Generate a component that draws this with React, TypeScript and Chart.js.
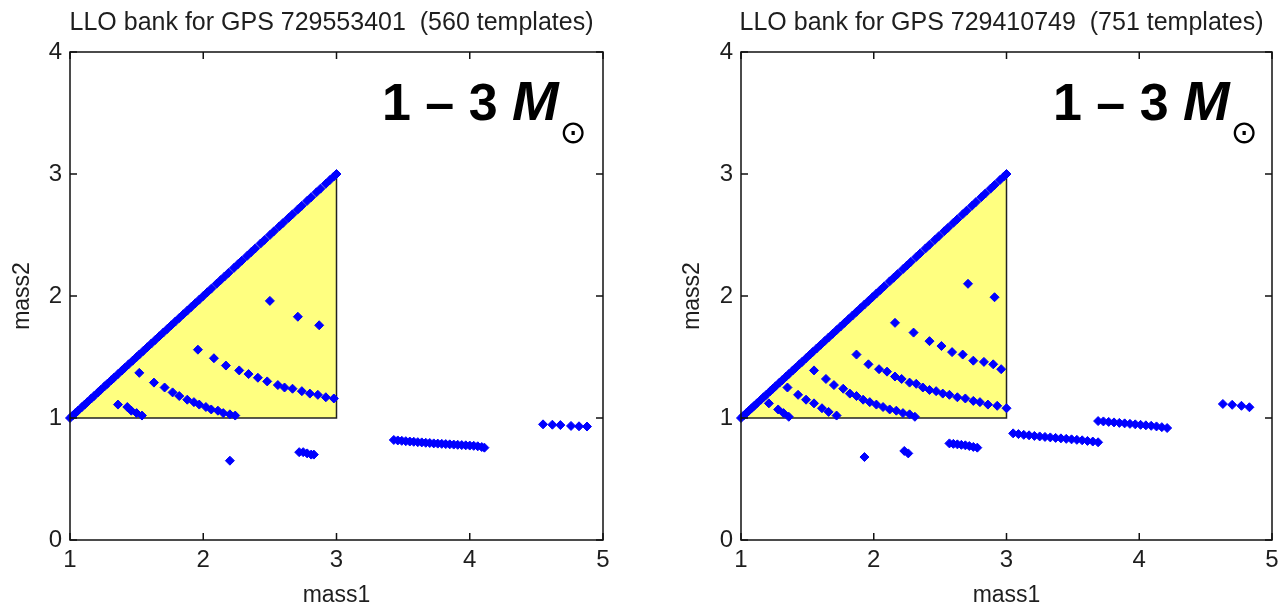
import React, { useEffect, useRef } from "react";
import { Chart, registerables } from "chart.js";

Chart.register(...registerables);

// ---------- data ----------
const xTickValues = [1, 2, 3, 4, 5];
const yTickValues = [0, 1, 2, 3, 4];
const triangleMass1 = [1, 3, 3];
const triangleMass2 = [1, 3, 1];

const leftTitle = "LLO bank for GPS 729553401  (560 templates)";
const rightTitle = "LLO bank for GPS 729410749  (751 templates)";

// equal-mass templates (mass1 = mass2)
const leftDiagonal = [
  1.0, 1.02, 1.04, 1.06, 1.09, 1.11, 1.13, 1.16, 1.18, 1.21, 1.23, 1.26, 1.28, 1.31, 1.33, 1.36, 1.39,
  1.41, 1.44, 1.47, 1.5, 1.52, 1.55, 1.58, 1.61, 1.64, 1.67, 1.7, 1.73, 1.76, 1.79, 1.82, 1.85, 1.88,
  1.91, 1.94, 1.97, 2.0, 2.03, 2.06, 2.1, 2.13, 2.16, 2.19, 2.23, 2.26, 2.29, 2.33, 2.36, 2.39, 2.43,
  2.46, 2.5, 2.53, 2.57, 2.6, 2.64, 2.67, 2.71, 2.74, 2.78, 2.81, 2.85, 2.88, 2.92, 2.95, 2.98, 3.0,
];
const rightDiagonal = [
  1.0, 1.02, 1.04, 1.06, 1.08, 1.1, 1.12, 1.15, 1.17, 1.19, 1.22, 1.24, 1.26, 1.29, 1.31, 1.34, 1.36,
  1.39, 1.41, 1.44, 1.46, 1.49, 1.52, 1.54, 1.57, 1.6, 1.63, 1.66, 1.69, 1.72, 1.75, 1.78, 1.81, 1.84,
  1.87, 1.9, 1.93, 1.96, 1.99, 2.02, 2.05, 2.08, 2.12, 2.15, 2.18, 2.22, 2.25, 2.28, 2.32, 2.35, 2.39,
  2.42, 2.46, 2.49, 2.53, 2.56, 2.6, 2.63, 2.67, 2.7, 2.74, 2.77, 2.81, 2.84, 2.88, 2.91, 2.95, 2.98, 3.0,
];

// unequal-mass templates
const leftMass1 = [
  2.5, 2.71, 2.87,
  1.96, 2.08, 2.17, 2.27, 2.34, 2.41, 2.48, 2.56, 2.61, 2.67, 2.74, 2.8, 2.86, 2.92, 2.98,
  1.52, 1.63, 1.71, 1.77, 1.82, 1.88, 1.93, 1.97, 2.02, 2.06, 2.11, 2.15, 2.2, 2.24,
  1.36, 1.43, 1.46, 1.5, 1.54,
  2.2,
  2.72, 2.75, 2.78, 2.81, 2.83,
  3.43, 3.46, 3.49, 3.52, 3.55, 3.58, 3.61, 3.64, 3.67, 3.7, 3.73, 3.76, 3.79, 3.82, 3.85, 3.88, 3.91,
  3.94, 3.97, 4.0, 4.03, 4.06, 4.09, 4.11,
  4.55, 4.62, 4.68, 4.76, 4.82, 4.88,
];
const leftMass2 = [
  1.96, 1.83, 1.76,
  1.56, 1.49, 1.43, 1.39, 1.36, 1.33, 1.3, 1.27, 1.25, 1.24, 1.22, 1.2, 1.19, 1.17, 1.16,
  1.37, 1.29, 1.25, 1.21, 1.18, 1.15, 1.13, 1.11, 1.09, 1.07, 1.06, 1.04, 1.03, 1.02,
  1.11, 1.09, 1.06, 1.04, 1.02,
  0.65,
  0.72, 0.72, 0.71, 0.7, 0.7,
  0.82, 0.816, 0.813, 0.81, 0.807, 0.805, 0.802, 0.8, 0.797, 0.795, 0.792, 0.79, 0.788, 0.786, 0.784,
  0.782, 0.78, 0.778, 0.776, 0.774, 0.772, 0.768, 0.762, 0.757,
  0.948, 0.945, 0.942, 0.935, 0.932, 0.93,
];

const rightMass1 = [
  2.71, 2.91,
  2.16, 2.3, 2.42, 2.51, 2.59, 2.67, 2.75, 2.83, 2.9, 2.96,
  1.87, 1.96, 2.04, 2.1, 2.16, 2.21, 2.27, 2.32, 2.37, 2.42, 2.47, 2.52, 2.57, 2.63, 2.69, 2.75, 2.8,
  2.86, 2.93, 3.0,
  1.55, 1.64, 1.7, 1.77, 1.82, 1.87, 1.92, 1.97, 2.02, 2.07, 2.12, 2.17, 2.22, 2.27, 2.31,
  1.35, 1.43, 1.49, 1.55, 1.61, 1.66, 1.72,
  1.21, 1.28, 1.32, 1.36,
  1.93, 2.23, 2.26,
  2.57, 2.6, 2.63, 2.66, 2.69, 2.72, 2.75, 2.78,
  3.05, 3.09, 3.13, 3.17, 3.21, 3.25, 3.29, 3.33, 3.37, 3.41, 3.45, 3.49, 3.53, 3.57, 3.61, 3.65, 3.69,
  3.69, 3.73, 3.77, 3.81, 3.85, 3.89, 3.93, 3.97, 4.01, 4.05, 4.09, 4.13, 4.17, 4.21,
  4.63, 4.7, 4.77, 4.83,
];
const rightMass2 = [
  2.1, 1.99,
  1.78, 1.7, 1.63, 1.59, 1.54, 1.52, 1.47, 1.46, 1.44, 1.4,
  1.52, 1.44, 1.4, 1.38, 1.34, 1.32, 1.29, 1.28, 1.25, 1.23, 1.22, 1.2, 1.19, 1.17, 1.16, 1.14, 1.13,
  1.11, 1.1, 1.08,
  1.39, 1.32, 1.27, 1.24, 1.2, 1.18, 1.15, 1.13, 1.11, 1.09, 1.07, 1.06, 1.04, 1.03, 1.01,
  1.25, 1.19, 1.15, 1.12, 1.08, 1.05, 1.02,
  1.12, 1.07, 1.04, 1.01,
  0.68, 0.73, 0.71,
  0.792, 0.788, 0.784, 0.78, 0.776, 0.77, 0.763, 0.757,
  0.874, 0.868, 0.862, 0.858, 0.853, 0.849, 0.845, 0.841, 0.837, 0.833, 0.829, 0.825, 0.821, 0.817,
  0.812, 0.807, 0.801,
  0.975, 0.972, 0.968, 0.964, 0.96, 0.956, 0.952, 0.948, 0.944, 0.94, 0.936, 0.931, 0.925, 0.918,
  1.115, 1.108, 1.1, 1.088,
];

// ---------- styling ----------
const FONT = '"Liberation Sans", Arial, Helvetica, sans-serif';
const TEXT_COLOR = "#1e1e1e";
const YELLOW = "#ffff80";
const BLUE = "#0000ff";

type PanelProps = {
  title: string;
  diagonal: number[];
  mass1: number[];
  mass2: number[];
  left: number;
  width: number;
  yAxisWidth: number;
  padRight: number;
};

function Panel({ title, diagonal, mass1, mass2, left, width, yAxisWidth, padRight }: PanelProps) {
  const ref = useRef<HTMLCanvasElement | null>(null);

  useEffect(() => {
    if (!ref.current) return;
    const points = [
      ...diagonal.map((m) => ({ x: m, y: m })),
      ...mass1.map((m, i) => ({ x: m, y: mass2[i] })),
    ];

    const decor = {
      id: "matlabDecor",
      afterDraw(chart: any) {
        const { ctx, chartArea } = chart;
        const { left: l, right: r, top: t, bottom: b } = chartArea;
        const xs = chart.scales.x;
        const ys = chart.scales.y;
        ctx.save();
        ctx.strokeStyle = "#111";
        ctx.lineWidth = 1.5;
        ctx.strokeRect(l, t, r - l, b - t);
        const tl = 7;
        ctx.beginPath();
        xTickValues.forEach((v) => {
          const px = xs.getPixelForValue(v);
          ctx.moveTo(px, b);
          ctx.lineTo(px, b - tl);
          ctx.moveTo(px, t);
          ctx.lineTo(px, t + tl);
        });
        yTickValues.forEach((v) => {
          const py = ys.getPixelForValue(v);
          ctx.moveTo(l, py);
          ctx.lineTo(l + tl, py);
          ctx.moveTo(r, py);
          ctx.lineTo(r - tl, py);
        });
        ctx.stroke();

        // title
        ctx.fillStyle = TEXT_COLOR;
        ctx.font = `25px ${FONT}`;
        ctx.textAlign = "center";
        ctx.textBaseline = "alphabetic";
        ctx.fillText(title, (l + r) / 2 - 5, 30);

        // big range label
        ctx.fillStyle = "#000";
        ctx.textAlign = "left";
        let bx = l + 312;
        const by = t + 68;
        ctx.font = `bold 52px ${FONT}`;
        const part1 = "1 \u2013 3 ";
        ctx.fillText(part1, bx, by);
        bx += ctx.measureText(part1).width;
        ctx.font = `italic bold 56px ${FONT}`;
        ctx.fillText("M", bx, by);
        bx += ctx.measureText("M").width + 1;
        ctx.font = `32px "DejaVu Sans", sans-serif`;
        ctx.fillText("\u2299", bx, by + 23);
        ctx.restore();
      },
    };

    const chart = new Chart(ref.current, {
      type: "scatter",
      data: {
        datasets: [
          {
            type: "line",
            data: [
              { x: triangleMass1[0], y: triangleMass2[0] },
              { x: triangleMass1[1], y: triangleMass2[1] },
            ],
            fill: { value: 1 },
            backgroundColor: YELLOW,
            borderColor: "rgba(0,0,0,0)",
            borderWidth: 0,
            pointRadius: 0,
            order: 3,
          } as any,
          {
            type: "line",
            data: [
              { x: triangleMass1[0], y: triangleMass2[0] },
              { x: triangleMass1[2], y: triangleMass2[2] },
              { x: triangleMass1[1], y: triangleMass2[1] },
            ],
            fill: false,
            borderColor: "#222",
            borderWidth: 1.5,
            pointRadius: 0,
            order: 2,
          } as any,
          {
            data: points,
            pointStyle: "rectRot",
            pointRadius: 4.5,
            backgroundColor: BLUE,
            borderColor: BLUE,
            borderWidth: 1,
            clip: false,
            order: 1,
          } as any,
        ],
      },
      options: {
        animation: false,
        responsive: true,
        maintainAspectRatio: false,
        events: [],
        layout: { padding: { top: 52, right: padRight, left: 0, bottom: 0 } },
        plugins: {
          legend: { display: false },
          tooltip: { enabled: false },
          title: { display: false },
        },
        scales: {
          x: {
            type: "linear",
            min: 1,
            max: 5,
            afterFit: (s: any) => {
              s.height = 69;
            },
            afterBuildTicks: (s: any) => {
              s.ticks = xTickValues.map((v) => ({ value: v }));
            },
            ticks: { font: { family: FONT, size: 24 }, color: TEXT_COLOR, padding: 6, maxRotation: 0 },
            grid: { display: false, drawTicks: false },
            border: { display: false },
            title: {
              display: true,
              text: "mass1",
              font: { family: FONT, size: 23 },
              color: TEXT_COLOR,
              padding: { top: 0, bottom: 0 },
            },
          },
          y: {
            type: "linear",
            min: 0,
            max: 4,
            afterFit: (s: any) => {
              s.width = yAxisWidth;
            },
            afterBuildTicks: (s: any) => {
              s.ticks = yTickValues.map((v) => ({ value: v }));
            },
            ticks: { font: { family: FONT, size: 24 }, color: TEXT_COLOR, padding: 8 },
            grid: { display: false, drawTicks: false },
            border: { display: false },
            title: {
              display: true,
              text: "mass2",
              font: { family: FONT, size: 23 },
              color: TEXT_COLOR,
              padding: { top: 9, bottom: 0 },
            },
          },
        },
      } as any,
      plugins: [decor],
    });
    return () => chart.destroy();
  }, [title, diagonal, mass1, mass2, yAxisWidth, padRight]);

  return (
    <div style={{ position: "absolute", left, top: 0, width, height: 609 }}>
      <canvas ref={ref} />
    </div>
  );
}

export default function App() {
  return (
    <div
      style={{
        position: "fixed",
        left: 0,
        top: 0,
        width: 1278,
        height: 605,
        background: "#fff",
        overflow: "hidden",
      }}
    >
      <Panel
        title={leftTitle}
        diagonal={leftDiagonal}
        mass1={leftMass1}
        mass2={leftMass2}
        left={0}
        width={640}
        yAxisWidth={70}
        padRight={37}
      />
      <Panel
        title={rightTitle}
        diagonal={rightDiagonal}
        mass1={rightMass1}
        mass2={rightMass2}
        left={670}
        width={624}
        yAxisWidth={71}
        padRight={22}
      />
    </div>
  );
}
